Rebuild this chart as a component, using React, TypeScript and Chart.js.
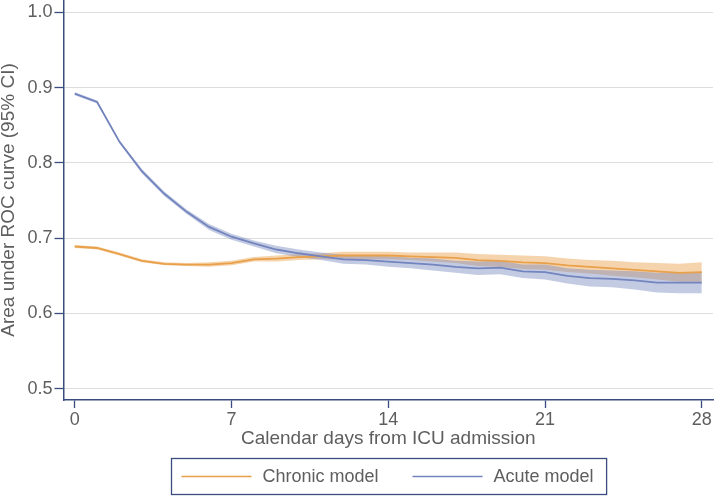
import React, { useEffect, useRef } from "react";
import { Chart, registerables } from "chart.js";

Chart.register(...registerables);

const days = [0, 1, 2, 3, 4, 5, 6, 7, 8, 9, 10, 11, 12, 13, 14, 15, 16, 17, 18, 19, 20, 21, 22, 23, 24, 25, 26, 27, 28];

const chronicAuc = [0.689, 0.687, 0.679, 0.670, 0.666, 0.665, 0.665, 0.667, 0.672, 0.673, 0.675, 0.676, 0.677, 0.677, 0.677, 0.676, 0.675, 0.674, 0.671, 0.670, 0.668, 0.667, 0.664, 0.662, 0.660, 0.658, 0.656, 0.654, 0.655];
const chronicLower = [0.687, 0.685, 0.677, 0.668, 0.664, 0.663, 0.662, 0.664, 0.669, 0.669, 0.671, 0.672, 0.672, 0.672, 0.672, 0.671, 0.669, 0.667, 0.663, 0.662, 0.659, 0.658, 0.655, 0.653, 0.650, 0.648, 0.645, 0.642, 0.642];
const chronicUpper = [0.691, 0.689, 0.681, 0.672, 0.668, 0.667, 0.668, 0.670, 0.675, 0.677, 0.679, 0.680, 0.682, 0.682, 0.682, 0.681, 0.681, 0.681, 0.679, 0.678, 0.677, 0.676, 0.673, 0.671, 0.670, 0.668, 0.667, 0.666, 0.668];

const acuteAuc = [0.892, 0.881, 0.828, 0.789, 0.759, 0.735, 0.715, 0.702, 0.693, 0.685, 0.680, 0.676, 0.672, 0.671, 0.669, 0.667, 0.665, 0.662, 0.660, 0.661, 0.656, 0.655, 0.650, 0.647, 0.646, 0.644, 0.641, 0.641, 0.641];
const acuteLower = [0.890, 0.879, 0.826, 0.786, 0.756, 0.732, 0.711, 0.698, 0.689, 0.680, 0.675, 0.671, 0.666, 0.665, 0.662, 0.660, 0.657, 0.654, 0.651, 0.652, 0.647, 0.645, 0.640, 0.636, 0.635, 0.632, 0.628, 0.627, 0.627];
const acuteUpper = [0.894, 0.883, 0.830, 0.792, 0.762, 0.738, 0.719, 0.706, 0.697, 0.690, 0.685, 0.681, 0.678, 0.677, 0.676, 0.674, 0.673, 0.670, 0.669, 0.670, 0.665, 0.665, 0.660, 0.658, 0.657, 0.656, 0.654, 0.655, 0.655];

const xTickValues = [0, 7, 14, 21, 28];
const yTickValues = [0.5, 0.6, 0.7, 0.8, 0.9, 1.0];
const seriesLabels = ["Chronic model", "Acute model"];
const xTitle = "Calendar days from ICU admission";
const yTitle = "Area under ROC curve (95% CI)";

const FONT = "'Liberation Sans', Arial, Helvetica, sans-serif";
const AXIS = "#3b4c7e";
const TEXT = "#5e5e5e";
const GRID = "#dddddd";
const ORANGE = "#e9a04a";
const ORANGE_BAND = "rgba(233,160,74,0.45)";
const BLUE = "#7384be";
const BLUE_BAND = "rgba(113,130,189,0.42)";
const seriesColors = [ORANGE, BLUE];

const pts = (ys: number[]) => days.map((d, i) => ({ x: d, y: ys[i] }));

const boxLegend = {
  id: "boxLegend",
  afterDraw(chart: any) {
    const { ctx, chartArea, scales } = chart;
    const fontSize = 18;
    ctx.save();
    ctx.font = `${fontSize}px ${FONT}`;
    const lineLen = 70;
    const gapLT = 11;
    const gapItems = 34;
    const padL = 10;
    const padR = 13;
    const widths = seriesLabels.map((t) => ctx.measureText(t).width);
    const total =
      padL + widths.reduce((a, w) => a + lineLen + gapLT + w, 0) + gapItems * (seriesLabels.length - 1) + padR;
    const cx = (chartArea.left + chartArea.right) / 2;
    const left = Math.round(cx - total / 2) + 0.5;
    const top = Math.round(scales.x.bottom + 10) + 0.5;
    const h = 36;
    ctx.strokeStyle = AXIS;
    ctx.lineWidth = 1.3;
    ctx.strokeRect(left, top, total, h);
    let x = left + padL;
    const cy = top + h / 2;
    seriesLabels.forEach((label, i) => {
      ctx.strokeStyle = seriesColors[i];
      ctx.lineWidth = 1.6;
      ctx.beginPath();
      ctx.moveTo(x, cy);
      ctx.lineTo(x + lineLen, cy);
      ctx.stroke();
      x += lineLen + gapLT;
      ctx.fillStyle = TEXT;
      ctx.textBaseline = "middle";
      ctx.textAlign = "left";
      ctx.fillText(label, x, cy + 1);
      x += widths[i] + gapItems;
    });
    ctx.restore();
  },
};

export default function App() {
  const canvasRef = useRef<HTMLCanvasElement | null>(null);

  useEffect(() => {
    if (!canvasRef.current) return;
    Chart.defaults.font.family = FONT;
    const chart = new Chart(canvasRef.current, {
      type: "line",
      data: {
        datasets: [
          {
            label: seriesLabels[1],
            data: pts(acuteAuc),
            borderColor: BLUE,
            borderWidth: 1.8,
            pointRadius: 0,
            fill: false,
          },
          {
            label: seriesLabels[0],
            data: pts(chronicAuc),
            borderColor: ORANGE,
            borderWidth: 1.8,
            pointRadius: 0,
            fill: false,
          },
          {
            label: "Acute upper",
            data: pts(acuteUpper),
            borderWidth: 0,
            borderColor: "rgba(0,0,0,0)",
            backgroundColor: BLUE_BAND,
            pointRadius: 0,
            fill: "+1",
          },
          {
            label: "Acute lower",
            data: pts(acuteLower),
            borderWidth: 0,
            borderColor: "rgba(0,0,0,0)",
            pointRadius: 0,
            fill: false,
          },
          {
            label: "Chronic upper",
            data: pts(chronicUpper),
            borderWidth: 0,
            borderColor: "rgba(0,0,0,0)",
            backgroundColor: ORANGE_BAND,
            pointRadius: 0,
            fill: "+1",
          },
          {
            label: "Chronic lower",
            data: pts(chronicLower),
            borderWidth: 0,
            borderColor: "rgba(0,0,0,0)",
            pointRadius: 0,
            fill: false,
          },
        ],
      },
      options: {
        responsive: false,
        animation: false,
        devicePixelRatio: 1,
        layout: { padding: { left: 0, right: 1, top: 0, bottom: 49 } },
        plugins: {
          legend: { display: false },
          tooltip: { enabled: false },
        },
        elements: { line: { tension: 0 } },
        scales: {
          x: {
            type: "linear",
            min: -0.5,
            max: 28.5,
            afterBuildTicks: (s: any) => {
              s.ticks = xTickValues.map((v) => ({ value: v }));
            },
            afterFit: (s: any) => {
              s.height = 48;
              s.paddingLeft = 0;
              s.paddingRight = 0;
            },
            ticks: {
              color: TEXT,
              font: { size: 18, lineHeight: 1 },
              padding: 3,
              maxRotation: 0,
              autoSkip: false,
              callback: (v: any) => String(v),
            },
            grid: {
              drawOnChartArea: false,
              drawTicks: true,
              tickLength: 8,
              tickColor: AXIS,
              tickWidth: 1.3,
            },
            border: { color: AXIS, width: 1.5 },
            title: {
              display: true,
              text: xTitle,
              color: TEXT,
              font: { size: 19, lineHeight: 1 },
              padding: { top: 0, bottom: 0 },
            },
          },
          y: {
            type: "linear",
            min: 0.4851,
            max: 1.0164,
            afterBuildTicks: (s: any) => {
              s.ticks = yTickValues.map((v) => ({ value: v }));
            },
            afterFit: (s: any) => {
              s.width = 63.5;
              s.paddingTop = 0;
              s.paddingBottom = 0;
            },
            ticks: {
              color: TEXT,
              font: { size: 18, lineHeight: 1 },
              padding: 2,
              autoSkip: false,
              callback: (v: any) => Number(v).toFixed(1),
            },
            grid: {
              color: GRID,
              lineWidth: 1,
              drawTicks: true,
              tickLength: 9,
              tickColor: AXIS,
              tickWidth: 1.3,
            },
            border: { color: AXIS, width: 1.5 },
            title: {
              display: true,
              text: yTitle,
              color: TEXT,
              font: { size: 19, lineHeight: 0.88 },
              padding: { top: 0, bottom: 0 },
            },
          },
        },
      },
      plugins: [boxLegend],
    });
    return () => chart.destroy();
  }, []);

  return (
    <div style={{ position: "fixed", left: 0, top: 0, width: 714, height: 497, background: "#fff" }}>
      <canvas ref={canvasRef} width={714} height={497} style={{ display: "block" }} />
    </div>
  );
}
